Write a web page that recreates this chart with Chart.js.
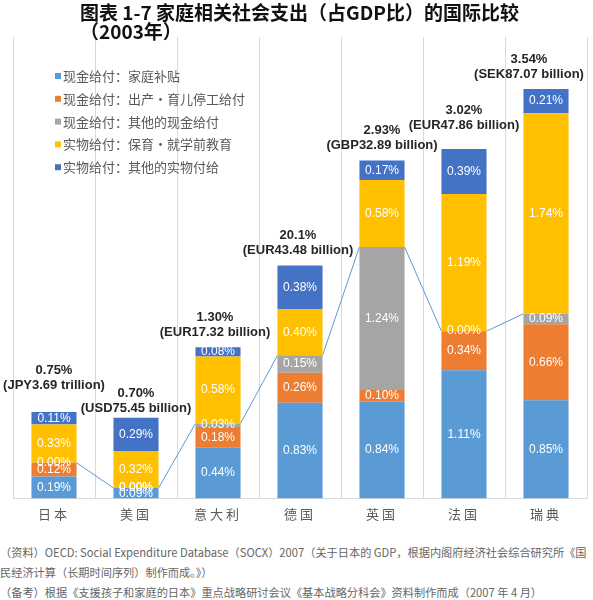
<!DOCTYPE html>
<html>
<head>
<meta charset="utf-8">
<script src="https://cdn.jsdelivr.net/npm/chart.js@4.4.0/dist/chart.umd.min.js"></script>
<style>
body { margin: 0; background: #fff; width: 593px; height: 600px; position: relative; overflow: hidden; font-family: "Noto Sans CJK SC", sans-serif; }
#title { position: absolute; left: 80px; top: 2px; font-weight: bold; font-size: 19px; line-height: 19px; color: #111; white-space: nowrap; }
#chart { position: absolute; left: 0; top: 0; }
#note { position: absolute; left: 0; top: 542px; font-size: 11.2px; line-height: 20px; color: #666; white-space: nowrap; }
</style>
</head>
<body>
<canvas id="chart" width="593" height="540"></canvas>
<div id="title">图表 1-7 家庭相关社会支出（占GDP比）的国际比较<br>（2003年）</div>
<div id="note">（资料）OECD: Social Expenditure Database（SOCX）2007（关于日本的 GDP，根据内阁府经济社会综合研究所《国<br>民经济计算（长期时间序列）制作而成。》）<br>（备考）根据《支援孩子和家庭的日本》重点战略研讨会议《基本战略分科会》资料制作而成（2007 年 4 月）</div>
<script>
var fontFamily = '"Liberation Sans", Arial, "Noto Sans CJK SC", sans-serif';
var cjkFont = '"Noto Sans CJK SC", sans-serif';

var countries = ['日本', '美国', '意大利', '德国', '英国', '法国', '瑞典'];
var seriesNames = ['现金给付：家庭补贴', '现金给付：出产・育儿停工给付', '现金给付：其他的现金给付', '实物给付：保育・就学前教育', '实物给付：其他的实物付给'];
var familyAllowance = [0.19, 0.09, 0.44, 0.83, 0.84, 1.11, 0.85];
var maternityLeave = [0.12, 0.00, 0.18, 0.26, 0.10, 0.34, 0.66];
var otherCash = [0.00, 0.00, 0.03, 0.15, 1.24, 0.00, 0.09];
var childcare = [0.33, 0.32, 0.58, 0.40, 0.58, 1.19, 1.74];
var otherInKind = [0.11, 0.29, 0.08, 0.38, 0.17, 0.39, 0.21];
var totalLabels = ['0.75%', '0.70%', '1.30%', '20.1%', '2.93%', '3.02%', '3.54%'];
var amountLabels = ['(JPY3.69 trillion)', '(USD75.45 billion)', '(EUR17.32 billion)', '(EUR43.48 billion)', '(GBP32.89 billion)', '(EUR47.86 billion)', '(SEK87.07 billion)'];
var colors = ['#5B9BD5', '#ED7D31', '#A5A5A5', '#FFC000', '#4472C4'];

// where the hand-placed total labels sit: [x shift, gap above bar top]
var totalLabelShift = [[0, 26], [0, 9], [-3, 15], [-2, 15], [0, 15], [0, 23], [-17, 14]];

var series = [familyAllowance, maternityLeave, otherCash, childcare, otherInKind];

// spaced-out axis labels, switched off again before the bars
var spacing = {
    id: 'spacing',
    beforeDraw: function(chart) { chart.ctx.letterSpacing = '3px'; },
    beforeDatasetsDraw: function(chart) { chart.ctx.letterSpacing = '0px'; }
};

// thin line linking the top of the cash-benefit part between bars
var cashLine = {
    id: 'cashLine',
    beforeDatasetsDraw: function(chart) {
        var ctx = chart.ctx;
        var y = chart.scales.y;
        var bars = chart.getDatasetMeta(0).data;
        ctx.save();
        ctx.strokeStyle = '#5B9BD5';
        ctx.lineWidth = 1;
        ctx.beginPath();
        for (var i = 0; i < bars.length - 1; i++) {
            var a = familyAllowance[i] + maternityLeave[i] + otherCash[i];
            var b = familyAllowance[i + 1] + maternityLeave[i + 1] + otherCash[i + 1];
            ctx.moveTo(bars[i].x + bars[i].width / 2, y.getPixelForValue(a));
            ctx.lineTo(bars[i + 1].x - bars[i + 1].width / 2, y.getPixelForValue(b));
        }
        ctx.stroke();
        ctx.restore();
    }
};

var barLabels = {
    id: 'barLabels',
    afterDatasetsDraw: function(chart) {
        var ctx = chart.ctx;
        ctx.save();
        ctx.textAlign = 'center';
        ctx.textBaseline = 'middle';
        ctx.fillStyle = '#ffffff';
        ctx.font = '12px ' + fontFamily;
        chart.data.datasets.forEach(function(ds, i) {
            chart.getDatasetMeta(i).data.forEach(function(bar, j) {
                ctx.fillText(ds.data[j].toFixed(2) + '%', bar.x, (bar.y + bar.base) / 2);
            });
        });
        var tops = chart.getDatasetMeta(series.length - 1).data;
        ctx.fillStyle = '#262626';
        ctx.font = 'bold 13px ' + fontFamily;
        tops.forEach(function(bar, j) {
            var x = bar.x + totalLabelShift[j][0];
            var y2 = bar.y - totalLabelShift[j][1];
            ctx.fillText(amountLabels[j], x, y2);
            ctx.fillText(totalLabels[j], x, y2 - 15);
        });
        ctx.restore();
    }
};

var boxLegend = {
    id: 'boxLegend',
    afterDraw: function(chart) {
        var ctx = chart.ctx;
        var area = chart.chartArea;
        ctx.save();
        ctx.font = '13px ' + cjkFont;
        ctx.textBaseline = 'middle';
        seriesNames.forEach(function(name, i) {
            var y = area.top + 39 + i * 22.8;
            ctx.fillStyle = colors[i];
            ctx.fillRect(area.left + 42, y - 3, 6, 6);
            ctx.fillStyle = '#595959';
            ctx.fillText(name, area.left + 50, y);
        });
        ctx.restore();
    }
};

var canvas = document.getElementById('chart');
new Chart(canvas, {
    type: 'bar',
    data: {
        labels: countries,
        datasets: series.map(function(values, i) {
            return {
                label: seriesNames[i],
                data: values,
                backgroundColor: colors[i],
                barPercentage: 0.55,
                categoryPercentage: 1
            };
        })
    },
    options: {
        responsive: false,
        animation: false,
        layout: { padding: { top: 37, left: 13, right: 6, bottom: 10 } },
        plugins: {
            legend: { display: false },
            title: { display: false },
            tooltip: { enabled: false }
        },
        scales: {
            x: {
                stacked: true,
                grid: { color: '#d9d9d9', drawTicks: false },
                border: { color: '#d9d9d9' },
                ticks: { color: '#595959', padding: 8, font: { size: 13, family: cjkFont } }
            },
            y: {
                stacked: true,
                display: false,
                min: 0,
                max: 4
            }
        }
    },
    plugins: [spacing, cashLine, barLabels, boxLegend]
});
</script>
</body>
</html>
